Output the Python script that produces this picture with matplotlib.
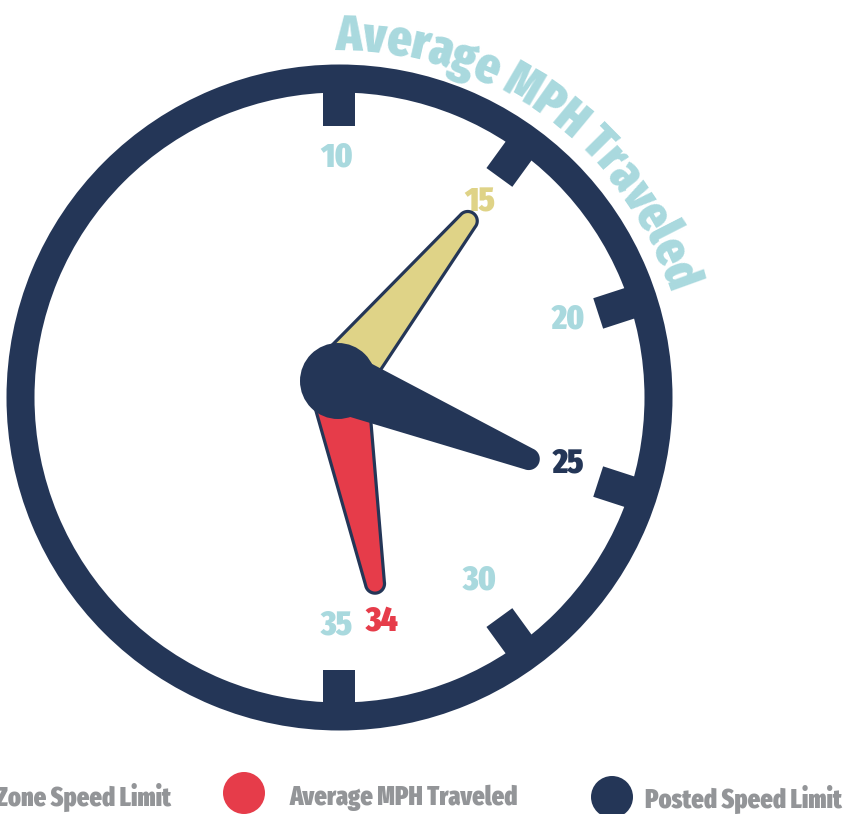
import os
import numpy as np
import matplotlib
matplotlib.use('Agg')
import matplotlib.pyplot as plt
from matplotlib.patches import Wedge, Polygon, Circle
from matplotlib.font_manager import FontProperties
from matplotlib import font_manager as fm

# ---------------- data ----------------
scale_ticks = [10, 15, 20, 25, 30, 35]
series_names = ['School Zone Speed Limit', 'Average MPH Traveled', 'Posted Speed Limit']
series_values = [15, 33.5, 25]
series_colors = ['#dfd387', '#e63c4a', '#243657']
title_text = 'Average MPH Traveled'

NAVY = '#243657'
LIGHT = '#a9d9de'
GRAY = '#939598'


# ---------- pick a heavy condensed face if one is installed ----------
def _w(f):
    w = f.weight
    if isinstance(w, str):
        w = {'black': 900, 'heavy': 900, 'extra bold': 800, 'bold': 700,
             'semibold': 600, 'demibold': 600, 'medium': 500}.get(w.lower(), 400)
    return w


def pick_font():
    best, best_s = None, -1
    for f in fm.fontManager.ttflist:
        fn = os.path.basename(f.fname).lower()
        nm = f.name.lower()
        if 'italic' in fn or 'oblique' in fn:
            continue
        if 'extracondensed' in fn or 'extra condensed' in nm:
            s = 30
        elif 'semicondensed' in fn or 'semi condensed' in nm:
            s = 10
        elif 'condensed' in fn or 'narrow' in fn or 'condensed' in nm or 'narrow' in nm:
            s = 20
        else:
            continue
        w = _w(f)
        if w < 600:
            continue
        s += w / 100.0
        if s > best_s:
            best, best_s = f, s
    return best


_bf = pick_font()


def FP(size):
    if _bf is not None:
        return FontProperties(fname=_bf.fname, size=size)
    return FontProperties(family='DejaVu Sans', weight='bold', size=size)


W, H = 845, 814
fig = plt.figure(figsize=(W / 100, H / 100), dpi=100)
ax = fig.add_axes([0, 0, 1, 1])
ax.set_xlim(0, W)
ax.set_ylim(H, 0)
ax.axis('off')
renderer = fig.canvas.get_renderer()


def tw(s, fp):
    return renderer.get_text_width_height_descent(s, fp, ismath=False)


def fit_size(s, target_w):
    w10 = tw(s, FP(10))[0]
    return 10 * target_w / w10


def fit_cap(target_h):
    _, h10, d10 = tw('0', FP(10))
    return 10 * target_h / (h10 - d10)


cx, cy = 339.5, 397.5          # gauge centre (pixels)
R_out, ring_w = 333, 28
hx, hy = 338, 381              # hub centre
hand_len = 206
vmin, vmax = 10, 35
C = np.array([cx, cy])


def ang(v):
    return np.deg2rad(90 - (v - vmin) * 180.0 / (vmax - vmin))


def px2pt(p):
    return p * 72.0 / 100.0


# ring
ax.add_patch(Wedge((cx, cy), R_out, 0, 360, width=ring_w, facecolor=NAVY, lw=0, zorder=2))

# ticks
for v in scale_ticks:
    th = ang(v)
    u = np.array([np.cos(th), -np.sin(th)])
    n = np.array([np.sin(th), np.cos(th)])
    r0, r1, hw = 272, R_out - 8, 16
    poly = [C + r0 * u + hw * n, C + r1 * u + hw * n, C + r1 * u - hw * n, C + r0 * u - hw * n]
    ax.add_patch(Polygon(poly, closed=True, facecolor=NAVY, lw=0, zorder=2))

# tick labels (centre of digits on an ellipse)
LC = np.array([337.0, 388.5])
rx_lab, ry_lab = 243, 234
fp_num = FP(fit_cap(25))
_, hh, dd = tw('0', fp_num)
cap_num = hh - dd


def put_num(v, txt, col):
    th = ang(v)
    x = LC[0] + rx_lab * np.cos(th)
    y = LC[1] - ry_lab * np.sin(th)
    ax.text(x, y + cap_num / 2, txt, fontproperties=fp_num, color=col,
            ha='center', va='baseline', zorder=3)


for v in scale_ticks:
    if v not in series_values:
        put_num(v, str(v), LIGHT)
for v, col in zip(series_values, series_colors):
    put_num(v, str(int(round(v))), col)

# hands
wb, wt = 59, 19
h = np.array([hx, hy])
for i in [0, 1, 2]:
    v = series_values[i]
    th = ang(v)
    u0 = np.array([np.cos(th), -np.sin(th)])
    d = C - h
    du = d @ u0
    t = -du + np.sqrt(du ** 2 - d @ d + hand_len ** 2)
    tip = C + t * u0
    dv = (tip - h) / np.linalg.norm(tip - h)
    n = np.array([-dv[1], dv[0]])
    pts = [h + n * wb / 2]
    for a in np.linspace(0, np.pi, 40):
        pts.append(tip + wt / 2 * (n * np.cos(a) + dv * np.sin(a)))
    pts.append(h - n * wb / 2)
    ax.add_patch(Polygon(pts, closed=True, facecolor=series_colors[i], edgecolor=NAVY,
                         lw=px2pt(3.2), joinstyle='round', zorder=4 + i))

ax.add_patch(Circle((hx, hy), 38, facecolor=NAVY, lw=0, zorder=8))

# curved title
r_base = 347
th_start, th_end = np.deg2rad(90.7), np.deg2rad(17.5)
S = r_base * (th_start - th_end)
fp_t = FP(fit_size(title_text, S))
for i, ch in enumerate(title_text):
    if ch == ' ':
        continue
    s0 = tw(title_text[:i], fp_t)[0] if i > 0 else 0.0
    s1 = tw(title_text[:i + 1], fp_t)[0]
    sc = (s0 + s1) / 2
    th = th_start - sc / r_base
    x, y = C + r_base * np.array([np.cos(th), -np.sin(th)])
    ax.text(x, y, ch, fontproperties=fp_t, color=LIGHT, rotation=np.rad2deg(th) - 90,
            ha='center', va='baseline', rotation_mode='anchor', zorder=3)

# legend
fp_leg = FP(fit_size('Average MPH Traveled', 229))
leg_circle_x = [-124, 244, 612]
leg_circle_y = [795, 793, 797]
leg_base_y = [806, 805, 808]
w_first = tw(series_names[0], fp_leg)[0]
leg_text_x = [171 - w_first, 290, 645]
for name, col, xc, yc, xt, yb in zip(series_names, series_colors, leg_circle_x,
                                      leg_circle_y, leg_text_x, leg_base_y):
    ax.add_patch(Circle((xc, yc), 21, facecolor=col, lw=0))
    ax.text(xt, yb, name, fontproperties=fp_leg, color=GRAY, ha='left', va='baseline')

fig.savefig('out.png', dpi=100)
